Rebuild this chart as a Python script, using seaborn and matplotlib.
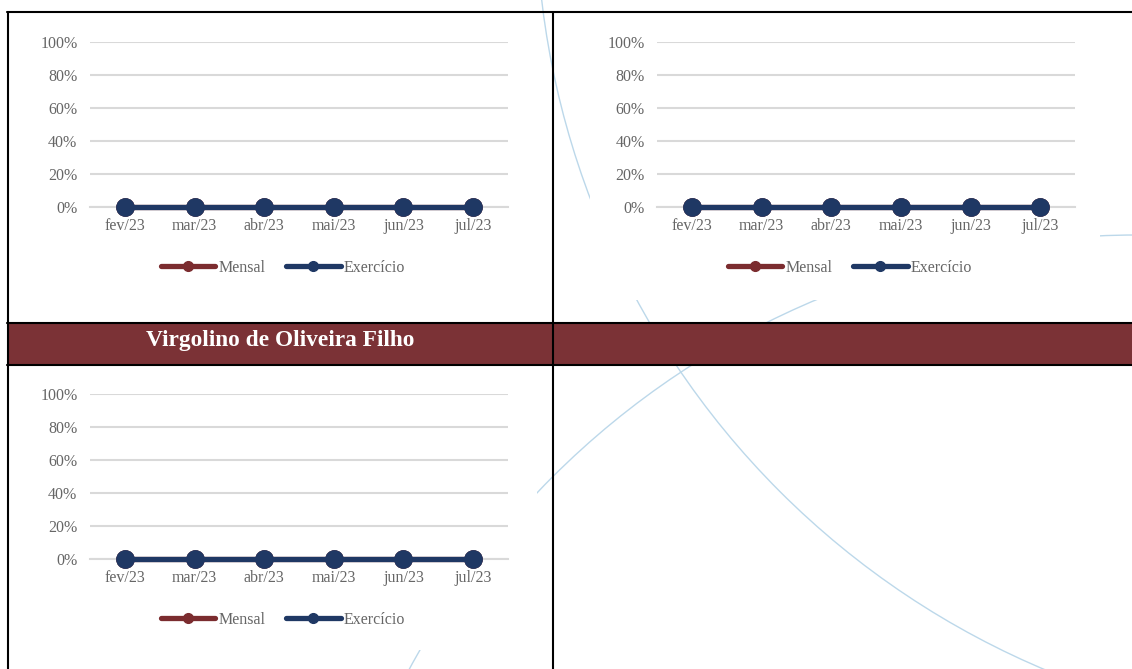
import numpy as np
import pandas as pd
import seaborn as sns
import matplotlib.pyplot as plt
from matplotlib.patches import Rectangle, Circle
from matplotlib.lines import Line2D
from matplotlib.ticker import PercentFormatter

# data (all three panels show the same zeroed series)
months = ['fev/23', 'mar/23', 'abr/23', 'mai/23', 'jun/23', 'jul/23']
mensal = [0, 0, 0, 0, 0, 0]
exercicio = [0, 0, 0, 0, 0, 0]
series_names = ['Mensal', 'Exercício']
banner_title = 'Virgolino de Oliveira Filho'

RED = '#7b2c2f'
NAVY = '#1f3864'
GRID = '#d9d9d9'
TEXT = '#666666'
BANNER = '#7b3236'
CURVE = '#bcd8ea'

sns.set_style('white')
plt.rcParams['font.family'] = ['Liberation Serif', 'DejaVu Serif']

W, H = 1132, 669
fig = plt.figure(figsize=(W / 100, H / 100), dpi=100)

# background: decorative arcs, white boxes, banner and table borders (pixel coords)
bg = fig.add_axes([0, 0, 1, 1])
bg.set_xlim(0, W)
bg.set_ylim(H, 0)
bg.axis('off')
bg.add_patch(Circle((1368, -97), 832, fill=False, ec=CURVE, lw=1.0, zorder=1))
bg.add_patch(Circle((1137, 1062), 827, fill=False, ec=CURVE, lw=1.0, zorder=1))
for x0, y0, w, h in [(10, 14, 527, 286), (590, 14, 510, 286), (10, 367, 527, 283)]:
    bg.add_patch(Rectangle((x0, y0), w, h, fc='white', ec='none', zorder=2))
bg.add_patch(Rectangle((8, 323), W - 8, 42, fc=BANNER, ec='none', zorder=3))
bg.text(280, 346, banner_title, color='white', fontsize=16.8, fontweight='bold',
        ha='center', va='baseline', zorder=5)
lw_border = 1.5
bg.plot([7, W], [12, 12], color='black', lw=lw_border, zorder=4)
bg.plot([7, W], [323, 323], color='black', lw=lw_border, zorder=4)
bg.plot([7, W], [365, 365], color='black', lw=lw_border, zorder=4)
bg.plot([7.5, 7.5], [12, H], color='black', lw=lw_border, zorder=4)
bg.plot([552.5, 552.5], [12, H], color='black', lw=lw_border, zorder=4)


def draw_chart(left, top, legend_x, legend_y):
    # left/top/legend given in pixels of the figure
    ax = fig.add_axes([left / W, 1 - (top + 165) / H, 418 / W, 165 / H])
    ax.set_facecolor('none')
    df = pd.DataFrame({
        'Mês': months * 2,
        'Valor': mensal + exercicio,
        'Série': [series_names[0]] * len(months) + [series_names[1]] * len(months),
    })
    sns.lineplot(data=df, x='Mês', y='Valor', hue='Série', sort=False,
                 palette={series_names[0]: RED, series_names[1]: NAVY},
                 marker='o', markersize=13.5, markeredgewidth=0, linewidth=3.8,
                 legend=False, ax=ax)
    for line in ax.lines:
        line.set_clip_on(False)
        line.set_zorder(3)

    ax.set_xlim(-0.5, len(months) - 0.5)
    ax.set_ylim(0, 1)
    ax.set_yticks(np.linspace(0, 1, 6))
    ax.yaxis.set_major_formatter(PercentFormatter(1.0, decimals=0))
    ax.set_xticks(range(len(months)))
    ax.set_xticklabels(months)
    ax.set_xticks(np.arange(-0.5, len(months)), minor=True)
    ax.set_xlabel('')
    ax.set_ylabel('')
    ax.yaxis.grid(True, color=GRID, lw=1.5)
    ax.set_axisbelow(True)
    for side in ['top', 'right', 'left']:
        ax.spines[side].set_visible(False)
    ax.spines['bottom'].set_color(GRID)
    ax.spines['bottom'].set_linewidth(1.5)
    ax.tick_params(axis='y', length=0, pad=9, labelsize=11.5, labelcolor=TEXT)
    ax.tick_params(axis='x', which='major', length=0, pad=8, labelsize=11.5, labelcolor=TEXT)
    ax.tick_params(axis='x', which='minor', length=4, width=1.5, color=GRID)

    handles = [Line2D([], [], color=RED, lw=3.8, marker='o', markersize=7),
               Line2D([], [], color=NAVY, lw=3.8, marker='o', markersize=7)]
    ax.legend(handles, series_names, loc='center', ncol=2, frameon=False,
              bbox_to_anchor=(legend_x / W, 1 - legend_y / H), bbox_transform=fig.transFigure,
              fontsize=11.5, labelcolor=TEXT, handlelength=3.4, handletextpad=0.2,
              columnspacing=1.3)
    return ax


draw_chart(90, 42, 283, 268)
draw_chart(657, 42, 850, 268)
draw_chart(90, 394, 283, 620)

fig.savefig('out.png', dpi=100)
